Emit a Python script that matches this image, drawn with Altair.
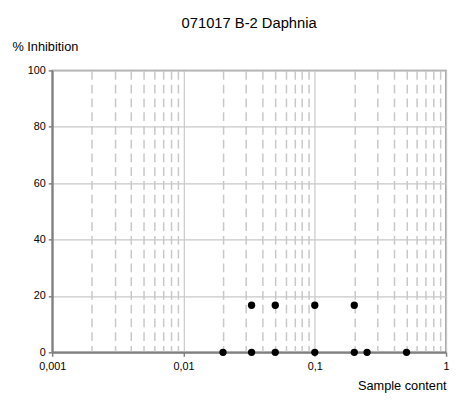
import altair as alt
import pandas as pd

# Data
x_vals = [0.02, 0.033, 0.05, 0.1, 0.2, 0.25, 0.5, 0.033, 0.05, 0.1, 0.2]
y_vals = [0, 0, 0, 0, 0, 0, 0, 16.7, 16.7, 16.7, 16.7]

decades = [0.001, 0.01, 0.1, 1]
decade_labels = ["0,001", "0,01", "0,1", "1"]
minor_mult = [2, 3, 4, 5, 6, 7, 8, 9]
y_ticks = [0, 20, 40, 60, 80, 100]

minor_vals = [round(m * d, 6) for d in decades[:-1] for m in minor_mult]
x_tick_vals = sorted(decades + minor_vals)

df = pd.DataFrame({"x": x_vals, "y": y_vals})

is_major = " || ".join(f"datum.value == {d}" for d in decades)
label_expr = " : ".join(
    f"datum.value == {d} ? '{l}'" for d, l in zip(decades, decade_labels)
) + " : ''"

FONT = "Liberation Sans"

chart = alt.Chart(df).mark_circle(size=55, color="black", opacity=1).encode(
    x=alt.X(
        "x:Q",
        scale=alt.Scale(type="log", domain=[0.001, 1], nice=False),
        axis=alt.Axis(
            values=x_tick_vals,
            labelExpr=label_expr,
            title="Sample content",
            titleAnchor="end",
            titleAlign="right",
            titleBaseline="alphabetic",
            titleX=401,
            titleY=38,
            titleFontWeight="normal",
            titleFontSize=13,
            titleFont=FONT,
            titleColor="#000000",
            labelFont=FONT,
            labelFontSize=11,
            labelColor="#000000",
            labelPadding=4,
            labelFlush=False,
            labelOverlap=False,
            domainColor="#808080",
            domainWidth=2,
            tickColor="#808080",
            tickWidth=1.5,
            tickSize=alt.condition(is_major, alt.value(4), alt.value(0)),
            grid=True,
            gridColor="#c8c8c8",
            gridWidth=alt.condition(is_major, alt.value(1.2), alt.value(1.5)),
            gridDash=alt.condition(is_major, alt.value([1, 0]), alt.value([9, 5])),
        ),
    ),
    y=alt.Y(
        "y:Q",
        scale=alt.Scale(domain=[0, 100], nice=False),
        axis=alt.Axis(
            values=y_ticks,
            title="% Inhibition",
            titleAngle=0,
            titleAlign="left",
            titleBaseline="alphabetic",
            titleX=-41,
            titleY=-20,
            titleFontWeight="normal",
            titleFontSize=13,
            titleFont=FONT,
            titleColor="#000000",
            labelFont=FONT,
            labelFontSize=11,
            labelColor="#000000",
            labelPadding=3,
            domainColor="#808080",
            domainWidth=2,
            tickColor="#808080",
            tickWidth=1.5,
            tickSize=4,
            grid=True,
            gridColor="#c8c8c8",
            gridWidth=1.2,
        ),
    ),
).properties(
    width=401,
    height=287,
    title=alt.TitleParams(
        "071017 B-2 Daphnia",
        font=FONT,
        fontSize=15,
        fontWeight="normal",
        color="#000000",
        anchor="middle",
        offset=10,
    ),
    autosize=alt.AutoSizeParams(type="none"),
    padding={"left": 45, "top": 60, "right": 4, "bottom": 45},
).configure_view(
    stroke="#808080",
    strokeWidth=1.5,
)

chart.save("out.html", embed_options={"renderer": "svg", "actions": False})
